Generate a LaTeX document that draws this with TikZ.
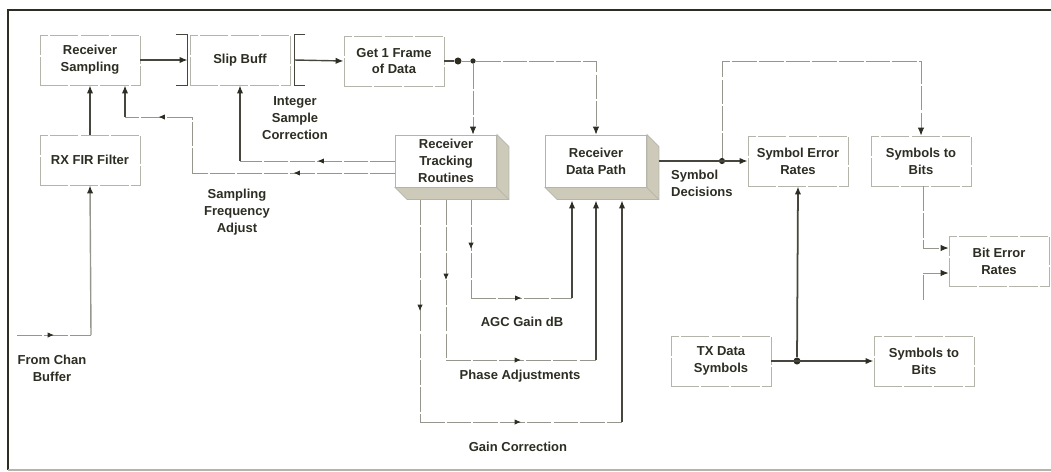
\documentclass[tikz,border=0pt]{standalone}
\usepackage{fontspec}
\setmainfont{Liberation Sans}
\usetikzlibrary{arrows.meta,positioning,calc,decorations.markings}
\definecolor{inkdark}{RGB}{45,45,35}
\definecolor{wiregray}{RGB}{70,70,62}
\definecolor{dashgray}{RGB}{150,150,140}
\definecolor{boxgray}{RGB}{180,180,170}
\definecolor{slabshade}{RGB}{205,202,186}

\tikzset{
  lbl/.style={font=\fontsize{7.4}{9.6}\selectfont\bfseries, text=inkdark, align=center},
  blk/.style={lbl, draw=boxgray, line width=0.5pt, dash pattern=on 16pt off 1.2pt,
    fill=white, minimum width=2cm, minimum height=1cm, inner sep=1pt},
  slab/.style={lbl, draw=boxgray, line width=0.5pt, fill=white,
    minimum width=2.02cm, minimum height=1.04cm, inner sep=1pt},
  wire/.style={draw=wiregray, line width=0.8pt},
  dwire/.style={draw=dashgray, line width=0.5pt, dash pattern=on 14pt off 1.2pt},
  tip/.style={-{Latex[length=4.5pt,width=3.6pt,color=inkdark]}},
  midtip/.style={postaction={decorate}, decoration={markings,
    mark=at position 0.5 with {\arrow[inkdark]{Latex[length=3.6pt,width=3pt]}}}},
  jdot/.style={circle, fill=inkdark, inner sep=0pt, minimum size=4pt},
}

\begin{document}
\begin{tikzpicture}[x=0.02cm, y=-0.02cm]
    \useasboundingbox (0,0) rectangle (1051,471);
    % frame
    \draw[inkdark, line width=1.4pt] (8,470) -- (8,10) -- (1051,10);
    \draw[boxgray, line width=0.6pt] (8,470) -- (1051,470);

    % blocks
    \node[blk] (rsamp) at (90,60) {Receiver\\Sampling};
    \node[blk] (slip) at (240,60) {Slip Buff};
    \node[blk] (frame) at (394,61) {Get 1 Frame\\of Data};
    \node[blk] (fir) at (90,160) {RX FIR Filter};
    \node[slab] (track) at (446,161) {Receiver\\Tracking\\Routines};
    \node[slab] (dpath) at (596,161) {Receiver\\Data Path};
    \node[blk] (ser) at (798,161) {Symbol Error\\Rates};
    \node[blk] (s2b) at (921,161) {Symbols to\\Bits};
    \node[blk] (ber) at (999,261) {Bit Error\\Rates};
    \node[blk] (txd) at (721,361) {TX Data\\Symbols};
    \node[blk] (s2bb) at (924,361) {Symbols to\\Bits};

    % 3d sides
    \foreach \b in {track,dpath} {
        \filldraw[fill=slabshade, draw=boxgray, line width=0.4pt]
            (\b.south west) -- ++(12,12) -- ($(\b.south east)+(12,12)$)
            -- ($(\b.north east)+(12,12)$) -- (\b.north east) -- (\b.south east) -- cycle;
        \draw[boxgray, line width=0.4pt] (\b.south east) -- ++(12,12);
    }

    % labels
    \node[lbl] (isc) at (295,118) {Integer\\Sample\\Correction};
    \node[lbl] (sfa) at (237,212) {Sampling\\Frequency\\Adjust};
    \node[lbl] (chan) at (52,368) {From Chan\\Buffer};
    \node[lbl] (agc) at (522,322) {AGC Gain dB};
    \node[lbl] (phase) at (520,376) {Phase Adjustments};
    \node[lbl] (gcorr) at (518,447) {Gain Correction};
    \node[lbl, align=left, anchor=west] (symdec) at (665,183) {Symbol\\Decisions};

    % sampling chain
    \coordinate (slipin) at ($(slip.west)+(-2,0)$);
    \coordinate (slipout) at ($(slip.east)+(4,0)$);
    \draw[wire] ($(slip.north west)+(-14,0)$) -- ($(slip.north west)+(-2,0)$)
        -- ($(slip.south west)+(-2,0)$) -- ($(slip.south west)+(-14,0)$);
    \draw[wire] ($(slip.north east)+(15,0)$) -- ($(slip.north east)+(4,0)$)
        -- ($(slip.south east)+(4,0)$) -- ($(slip.south east)+(15,0)$);
    \draw[wire,tip] (rsamp.east) -- (slipin);
    \draw[wire,tip] (slipout) -- (frame.west);
    \draw[wire,tip] (fir) -- (rsamp);
    \coordinate (chin) at (17,335);
    \coordinate (chc) at (91,335);
    \draw[dwire,midtip] (chin) -- (chc);
    \draw[wire,tip,draw=dashgray] (chc) -- (fir.south);

    % frame out
    \node[jdot] (j1) at (458,61) {};
    \node[jdot, minimum size=3pt] (j2) at (473,61) {};
    \draw[wire] (frame.east) -- (j1);
    \draw[dwire] (j1) -- (j2);
    \draw[dwire,tip] (j2) -- (j2 |- track.north);
    \draw[dwire,tip] (j2) -| (dpath.north);

    % tracking feedback
    \draw[dwire,midtip] (track.west) -- (track.west -| slip.south) coordinate (c1);
    \draw[wire,tip] (c1) -- (slip.south);
    \coordinate (t2) at ($(track.west)+(0,12)$);
    \coordinate (c3) at (192,173);
    \coordinate (c4) at (192,117);
    \coordinate (c5) at (125,117);
    \draw[dwire,midtip] (t2) -- (c3);
    \draw[dwire] (c3) -- (c4);
    \draw[dwire,midtip] (c4) -- (c5);
    \draw[wire,tip] (c5) -- (c5 |- rsamp.south);

    % loops into data path
    \foreach \sx/\ly/\dx in {471/298/-24, 446/360/0, 420/422/26} {
        \coordinate (la) at (\sx,200);
        \coordinate (lb) at (\sx,\ly);
        \coordinate (lc) at ($(dpath.south)+(\dx,13)$);
        \draw[dwire,midtip] (la) -- (lb);
        \draw[dwire,midtip] (lb) -- (lb -| lc);
        \draw[wire,tip] (lb -| lc) -- (lc);
    }

    % symbol decisions
    \coordinate (dpr) at ($(dpath.east)+(12,0)$);
    \node[jdot, minimum size=3.5pt] (j3) at (722,161) {};
    \draw[wire,tip] (dpr) -- (ser.west);
    \draw[dwire,tip] (j3) -- ++(0,-100) -| (s2b.north);
    \coordinate (sv) at ($(s2b.south)+(2,0)$);
    \draw[dwire,tip] (sv) |- ($(ber.west)+(0,-13)$);
    \coordinate (sfree) at (923,300);
    \draw[dwire,tip] (sfree) |- ($(ber.west)+(0,12)$);

    % tx symbols
    \node[jdot] (j4) at (797,361) {};
    \draw[wire,line width=1pt,tip] (txd.east) -- (s2bb.west);
    \draw[wire,line width=1pt,tip] (j4) -- (ser.south);
\end{tikzpicture}
\end{document}
